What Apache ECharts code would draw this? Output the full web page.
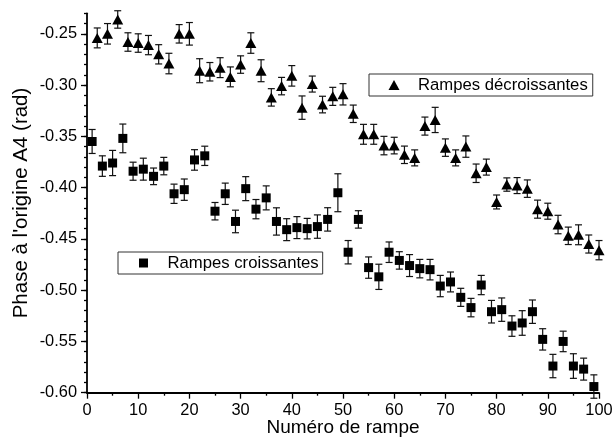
<!DOCTYPE html>
<html><head><meta charset="utf-8">
<script src="https://cdn.jsdelivr.net/npm/echarts/dist/echarts.min.js"></script>
<style>html,body{margin:0;padding:0;background:#fff}#c{width:612px;height:439px}</style>
</head><body><div id="c"></div>
<script>
// Rampes décroissantes (triangles), x = 2,4,...,100
const xDec = [2,4,6,8,10,12,14,16,18,20,22,24,26,28,30,32,34,36,38,40,42,44,46,48,50,52,54,56,58,60,62,64,66,68,70,72,74,76,78,80,82,84,86,88,90,92,94,96,98,100];
const yDec = [-0.254,-0.250,-0.236,-0.258,-0.259,-0.261,-0.270,-0.279,-0.250,-0.250,
              -0.286,-0.287,-0.283,-0.292,-0.280,-0.259,-0.286,-0.312,-0.301,-0.291,
              -0.322,-0.299,-0.319,-0.311,-0.309,-0.328,-0.348,-0.348,-0.359,-0.359,
              -0.368,-0.371,-0.340,-0.334,-0.361,-0.371,-0.360,-0.386,-0.380,-0.414,
              -0.397,-0.398,-0.401,-0.421,-0.423,-0.436,-0.447,-0.446,-0.455,-0.461];
const eDec = [0.0097,0.010,0.0085,0.009,0.009,0.0094,0.0094,0.010,0.009,0.011,
              0.0117,0.009,0.0097,0.0097,0.0085,0.010,0.0107,0.0085,0.0085,0.010,
              0.0114,0.0078,0.0081,0.0088,0.0104,0.0085,0.0097,0.0097,0.009,0.0081,
              0.0085,0.0078,0.0088,0.0123,0.0085,0.0078,0.0104,0.009,0.0078,0.0068,
              0.0065,0.0078,0.0085,0.0088,0.0078,0.009,0.0085,0.0097,0.0088,0.0094];
// Rampes croissantes (squares), x = 1,3,...,99
const xCro = [1,3,5,7,9,11,13,15,17,19,21,23,25,27,29,31,33,35,37,39,41,43,45,47,49,51,53,55,57,59,61,63,65,67,69,71,73,75,77,79,81,83,85,87,89,91,93,95,97,99];
const yCro = [-0.355,-0.379,-0.376,-0.352,-0.384,-0.382,-0.389,-0.379,-0.406,-0.402,
              -0.373,-0.369,-0.423,-0.406,-0.433,-0.401,-0.421,-0.410,-0.433,-0.441,
              -0.439,-0.440,-0.438,-0.431,-0.405,-0.463,-0.431,-0.478,-0.487,-0.463,
              -0.471,-0.476,-0.479,-0.480,-0.496,-0.492,-0.507,-0.517,-0.495,-0.521,
              -0.519,-0.535,-0.532,-0.521,-0.548,-0.574,-0.550,-0.574,-0.577,-0.594];
const eCro = [0.0117,0.010,0.0123,0.014,0.0088,0.0107,0.0081,0.0085,0.0094,0.0104,
              0.010,0.0094,0.0085,0.0104,0.011,0.0117,0.0094,0.0117,0.0133,0.0107,
              0.0107,0.010,0.0114,0.0114,0.0185,0.0114,0.0085,0.0104,0.0123,0.010,
              0.0085,0.0107,0.009,0.010,0.0104,0.0097,0.0088,0.009,0.0094,0.011,
              0.0114,0.010,0.012,0.0114,0.0104,0.0114,0.010,0.012,0.0107,0.0114];
const yTickLabels = [-0.60,-0.55,-0.50,-0.45,-0.40,-0.35,-0.30,-0.25];
const nameDec = 'Rampes décroissantes';
const nameCro = 'Rampes croissantes';

const F = '"Liberation Sans", Arial, sans-serif';
const chart = echarts.init(document.getElementById('c'), null, {renderer: 'canvas'});

function errRender(params, api) {
  const x = api.value(0), y = api.value(1), e = api.value(2);
  const t = api.coord([x, y + e]);
  const b = api.coord([x, y - e]);
  const hw = 3.5;
  const st = {stroke: '#111', lineWidth: 1.2, fill: null};
  return {type: 'group', children: [
    {type: 'line', shape: {x1: t[0], y1: t[1], x2: b[0], y2: b[1]}, style: st},
    {type: 'line', shape: {x1: t[0] - hw, y1: t[1], x2: t[0] + hw, y2: t[1]}, style: st},
    {type: 'line', shape: {x1: b[0] - hw, y1: b[1], x2: b[0] + hw, y2: b[1]}, style: st}
  ]};
}

const yCommon = {type: 'value', min: -0.60, max: -0.23, splitLine: {show: false}};

chart.setOption({
  animation: false,
  backgroundColor: '#fff',
  grid: {left: 87, right: 13, top: 13.3, bottom: 46.3, containLabel: false, outerBoundsMode: 'none'},
  xAxis: {
    type: 'value', min: 0, max: 100, interval: 10,
    name: 'Numéro de rampe', nameLocation: 'middle', nameGap: 26, nameMoveOverlap: false,
    nameTextStyle: {fontFamily: F, fontSize: 19, color: '#000'},
    axisLine: {lineStyle: {color: '#000', width: 1.8}},
    axisTick: {length: 6, lineStyle: {color: '#000', width: 1.3}},
    minorTick: {show: true, splitNumber: 2, length: 3, lineStyle: {color: '#000', width: 1.3}},
    axisLabel: {fontFamily: F, fontSize: 16.4, color: '#000', margin: 10},
    splitLine: {show: false}
  },
  yAxis: [
    Object.assign({}, yCommon, {
      interval: 0.01,
      name: "Phase à l'origine A4 (rad)", nameLocation: 'middle', nameGap: 55, nameMoveOverlap: false,
      nameTextStyle: {fontFamily: F, fontSize: 20.5, color: '#000'},
      axisLine: {lineStyle: {color: '#000', width: 1.8}},
      axisTick: {length: 3, lineStyle: {color: '#000', width: 1.3}},
      axisLabel: {fontFamily: F, fontSize: 16.4, color: '#000', margin: 10,
        customValues: yTickLabels,
        formatter: v => v.toFixed(2)}
    }),
    Object.assign({}, yCommon, {
      position: 'left',
      axisLine: {show: false},
      axisTick: {show: true, length: 6, customValues: yTickLabels, lineStyle: {color: '#000', width: 1.3}},
      axisLabel: {show: false}
    })
  ],
  legend: [
    {data: [nameDec], left: 369, top: 74, selectedMode: false,
     borderColor: '#333', borderWidth: 1, borderRadius: 0, padding: [2, 5, 2, 19.5],
     itemWidth: 11, itemHeight: 10, itemStyle: {opacity: 1},
     textStyle: {fontFamily: F, fontSize: 16.7, lineHeight: 18, color: '#000', padding: [0, 0, 0, 13.5]}},
    {data: [nameCro], left: 118, top: 252, selectedMode: false,
     borderColor: '#333', borderWidth: 1, borderRadius: 0, padding: [2, 4, 2, 21],
     itemWidth: 9, itemHeight: 9, itemStyle: {opacity: 1},
     textStyle: {fontFamily: F, fontSize: 16.7, lineHeight: 18, color: '#000', padding: [0, 0, 0, 14.5]}}
  ],
  series: [
    {type: 'custom', name: 'errDec', renderItem: errRender, z: 2,
     encode: {x: 0, y: 1}, data: xDec.map((x, i) => [x, yDec[i], eDec[i]])},
    {type: 'custom', name: 'errCro', renderItem: errRender, z: 2,
     encode: {x: 0, y: 1}, data: xCro.map((x, i) => [x, yCro[i], eCro[i]])},
    {type: 'scatter', name: nameDec, symbol: 'triangle', symbolSize: [11, 10], z: 3,
     itemStyle: {color: '#000', opacity: 1}, data: xDec.map((x, i) => [x, yDec[i]])},
    {type: 'scatter', name: nameCro, symbol: 'rect', symbolSize: [9, 9], z: 3,
     itemStyle: {color: '#000', opacity: 1}, data: xCro.map((x, i) => [x, yCro[i]])}
  ]
});
</script>
</body></html>
